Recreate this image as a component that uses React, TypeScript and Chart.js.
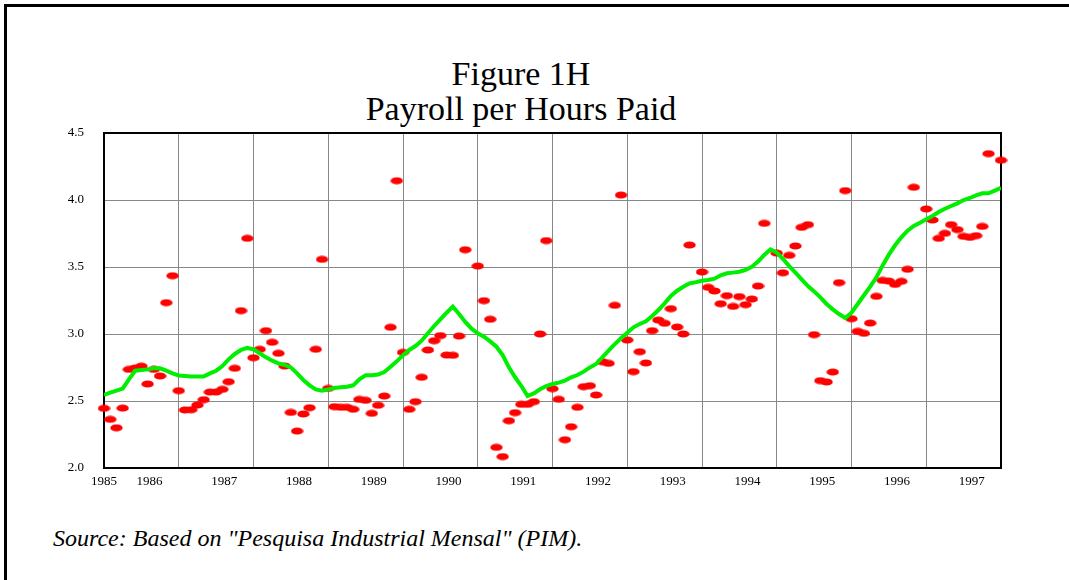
import React, { useEffect, useRef } from 'react';
import { Chart, registerables } from 'chart.js';

Chart.register(...registerables);

// Monthly observations, first point = June 1985 (null = no dot visible)
const payroll: (number | null)[] = [
  2.445, 2.363, 2.3, 2.447, 2.736, 2.746, 2.76, 2.627, 2.736, 2.687,
  3.234, 3.435, 2.577, 2.433, 2.435, 2.47, 2.51, 2.567, 2.567, 2.587,
  2.644, 2.744, 3.174, 3.714, 2.823, 2.886, 3.025, 2.938, 2.856, 2.761,
  2.415, 2.276, 2.403, 2.45, 2.886, 3.557, 2.594, 2.458, 2.453, 2.453,
  2.438, 2.512, 2.505, 2.408, 2.468, 2.537, 3.05, 4.144, 2.863, 2.438,
  2.495, 2.677, 2.881, 2.95, 2.988, 2.843, 2.841, 2.985, 3.629, null,
  3.507, 3.249, 3.11, 2.154, 2.085, 2.353, 2.413, 2.475, 2.475, 2.495,
  3.0, 3.697, 2.592, 2.513, 2.211, 2.308, 2.453, 2.607, 2.614, 2.545,
  2.793, 2.781, 3.214, 4.037, 2.955, 2.719, 2.868, 2.784, 3.025, 3.104,
  3.08, 3.189, 3.052, 3.0, 3.664, null, 3.463, 3.348, 3.321, 3.226,
  3.286, 3.206, 3.279, 3.219, 3.261, 3.358, 3.826, null, 3.604, 3.457,
  3.587, 3.657, 3.796, 3.816, 2.995, 2.652, 2.642, 2.716, 3.383, 4.07,
  3.114, 3.02, 3.005, 3.082, 3.281, 3.4, 3.395, 3.37, 3.393, 3.483,
  4.095, null, 3.933, 3.851, 3.714, 3.751, 3.816, 3.779, 3.729, 3.721,
  3.734, 3.803, 4.346, null, 4.297,
];

// Smoothed trend (green line)
const trend: number[] = [
  2.545, 2.562, 2.577, 2.592, 2.662, 2.726, 2.731, 2.736, 2.744, 2.744,
  2.726, 2.706, 2.691, 2.687, 2.682, 2.682, 2.682, 2.706, 2.726, 2.761,
  2.811, 2.851, 2.881, 2.896, 2.886, 2.856, 2.826, 2.801, 2.781, 2.769,
  2.751, 2.706, 2.657, 2.617, 2.587, 2.577, 2.587, 2.597, 2.602, 2.607,
  2.617, 2.662, 2.692, 2.692, 2.697, 2.716, 2.756, 2.796, 2.841, 2.881,
  2.91, 2.95, 3.005, 3.06, 3.109, 3.159, 3.204, 3.149, 3.09, 3.04,
  3.005, 2.98, 2.945, 2.905, 2.843, 2.751, 2.677, 2.612, 2.537, 2.557,
  2.587, 2.612, 2.627, 2.637, 2.652, 2.677, 2.694, 2.719, 2.751, 2.776,
  2.826, 2.876, 2.925, 2.968, 3.01, 3.05, 3.075, 3.095, 3.134, 3.179,
  3.229, 3.284, 3.323, 3.353, 3.378, 3.386, 3.398, 3.403, 3.413, 3.438,
  3.453, 3.458, 3.465, 3.478, 3.502, 3.54, 3.59, 3.632, 3.607, 3.56,
  3.507, 3.458, 3.408, 3.358, 3.318, 3.274, 3.224, 3.184, 3.149, 3.119,
  3.159, 3.224, 3.289, 3.353, 3.423, 3.512, 3.592, 3.662, 3.721, 3.771,
  3.806, 3.831, 3.856, 3.881, 3.91, 3.935, 3.955, 3.975, 4.0, 4.015,
  4.035, 4.05, 4.05, 4.07, 4.09,
];

const yearLabels: string[] = [
  '1985', '1986', '1987', '1988', '1989', '1990', '1991',
  '1992', '1993', '1994', '1995', '1996', '1997',
];

const yTickValues: number[] = [2.0, 2.5, 3.0, 3.5, 4.0, 4.5];

const titleLines: string[] = ['Figure 1H', 'Payroll per Hours Paid'];
const sourceText = 'Source: Based on "Pesquisa Industrial Mensal" (PIM).';

const MONTHS_PER_YEAR = 12;
const FIRST_JAN_INDEX = 7.3; // January 1986 (series starts mid-1985)
const lastIndex = payroll.length - 1;
const yearLabelPositions = yearLabels.map((_, k) =>
  k === 0 ? 0 : FIRST_JAN_INDEX + MONTHS_PER_YEAR * (k - 1)
);

const SERIF = '"Liberation Serif", "Times New Roman", Times, serif';

function makeDot(): HTMLCanvasElement {
  const c = document.createElement('canvas');
  c.width = 13;
  c.height = 8;
  const ctx = c.getContext('2d')!;
  ctx.fillStyle = '#ff0000';
  ctx.beginPath();
  ctx.ellipse(6.5, 4, 6.2, 3.6, 0, 0, Math.PI * 2);
  ctx.fill();
  return c;
}

const frameBorder = {
  id: 'frameBorder',
  beforeDatasetsDraw(chart: any) {
    const { ctx, chartArea } = chart;
    ctx.save();
    ctx.strokeStyle = '#000';
    ctx.lineWidth = 2;
    ctx.beginPath();
    ctx.moveTo(chartArea.left, chartArea.top);
    ctx.lineTo(chartArea.right, chartArea.top);
    ctx.lineTo(chartArea.right, chartArea.bottom);
    ctx.stroke();
    ctx.restore();
  },
};

export default function App() {
  const canvasRef = useRef<HTMLCanvasElement | null>(null);

  useEffect(() => {
    if (!canvasRef.current) return;
    const dot = makeDot();
    const tickFont = { family: SERIF, size: 13 };
    const chart = new Chart(canvasRef.current, {
      type: 'scatter',
      data: {
        datasets: [
          {
            type: 'line',
            label: 'Trend',
            data: trend.map((v, i) => ({ x: i, y: v })),
            borderColor: '#00ee00',
            borderWidth: 4,
            pointRadius: 0,
            fill: false,
            tension: 0,
            order: 0,
            xAxisID: 'x',
          },
          {
            type: 'scatter',
            label: 'Payroll per hours paid',
            data: payroll.map((v, i) => ({ x: i, y: v })),
            pointStyle: dot as any,
            pointRadius: 6,
            backgroundColor: '#ff0000',
            borderWidth: 0,
            order: 1,
            clip: false as any,
            xAxisID: 'x',
          },
        ],
      } as any,
      options: {
        responsive: false,
        animation: false,
        events: [],
        layout: { padding: { left: 0, right: 68, top: 133, bottom: 4 } },
        plugins: {
          legend: { display: false },
          tooltip: { enabled: false },
          title: { display: false },
        },
        scales: {
          x: {
            type: 'linear',
            position: 'bottom',
            min: 0,
            max: lastIndex,
            ticks: { display: false, stepSize: MONTHS_PER_YEAR },
            grid: { color: '#888888', lineWidth: 1, drawTicks: false },
            border: { display: true, color: '#000', width: 2 },
            afterFit: (s: any) => {
              s.height = 0;
            },
          },
          xLabels: {
            type: 'linear',
            position: 'bottom',
            min: 0,
            max: lastIndex,
            grid: { display: false, drawTicks: false },
            border: { display: false },
            afterBuildTicks: (s: any) => {
              s.ticks = yearLabelPositions.map((v) => ({ value: v }));
            },
            ticks: {
              autoSkip: false,
              maxRotation: 0,
              padding: 6,
              color: '#000',
              font: tickFont,
              callback: (_v: any, idx: number) => yearLabels[idx],
            },
            afterFit: (s: any) => {
              s.height = 28;
            },
          },
          y: {
            min: 2,
            max: 4.5,
            afterBuildTicks: (s: any) => {
              s.ticks = yTickValues.map((v) => ({ value: v }));
            },
            ticks: {
              padding: 20,
              color: '#000',
              font: tickFont,
              callback: (v: any) => Number(v).toFixed(1),
            },
            grid: { color: '#888888', lineWidth: 1, drawTicks: false },
            border: { display: true, color: '#000', width: 2 },
            afterFit: (s: any) => {
              s.width = 104;
            },
          },
        },
      } as any,
      plugins: [frameBorder],
    });
    return () => chart.destroy();
  }, []);

  return (
    <div
      style={{
        position: 'fixed',
        left: 0,
        top: 0,
        width: 1069,
        height: 580,
        background: '#fff',
        overflow: 'hidden',
      }}
    >
      <div
        style={{
          position: 'absolute',
          left: 4,
          top: 4,
          width: 1069 - 4,
          height: 580 - 4,
          borderLeft: '3px solid #000',
          borderTop: '3px solid #000',
          boxSizing: 'border-box',
        }}
      />
      <div
        style={{
          position: 'absolute',
          left: 0,
          top: 56,
          width: 1042,
          textAlign: 'center',
          fontFamily: SERIF,
          fontSize: 34,
          lineHeight: '35px',
          color: '#000',
        }}
      >
        {titleLines.map((t) => (
          <div key={t}>{t}</div>
        ))}
      </div>
      <canvas
        ref={canvasRef}
        width={1069}
        height={500}
        style={{ position: 'absolute', left: 0, top: 0, width: 1069, height: 500 }}
      />
      <div
        style={{
          position: 'absolute',
          left: 53,
          top: 523,
          fontFamily: SERIF,
          fontStyle: 'italic',
          fontSize: 24,
          lineHeight: '30px',
          color: '#000',
          whiteSpace: 'nowrap',
        }}
      >
        {sourceText}
      </div>
    </div>
  );
}
